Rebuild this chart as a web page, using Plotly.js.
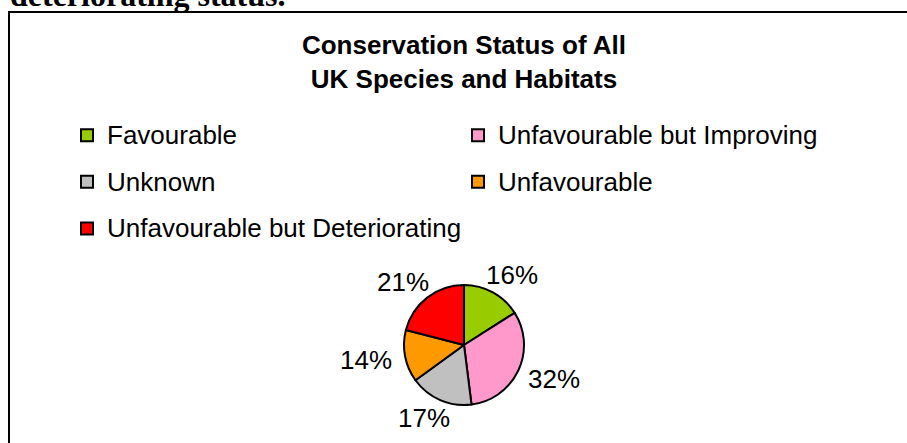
<!DOCTYPE html>
<html>
<head>
<meta charset="utf-8">
<script src="https://cdn.plot.ly/plotly-3.0.1.min.js"></script>
<style>
  html, body { margin: 0; padding: 0; background: #ffffff; }
  #chart { width: 907px; height: 443px; }
</style>
</head>
<body>
<div id="chart"></div>
<script>
// Conservation status shares (percent of all UK species and habitats)
const statusLabels = ['Favourable', 'Unfavourable but Improving', 'Unknown', 'Unfavourable', 'Unfavourable but Deteriorating'];
const statusShares = [16, 32, 17, 14, 21];
const statusColors = ['#99CC00', '#FF99CC', '#C0C0C0', '#FF9900', '#FF0000'];
const titleLines = ['Conservation Status of All', 'UK Species and Habitats'];
const headingTail = 'deteriorating status.';

const W = 907, H = 443;
const fx = v => v / W;        // pixel -> paper x
const fy = v => 1 - v / H;    // pixel -> paper y

const sans = 'Liberation Sans, Arial, sans-serif';

// Pie placement (pixels)
const pieCx = 464, pieCy = 345, pieR = 60;

// Legend rows use a taller line box than the visible text size
const legendText = statusLabels.map(l => '<span style="font-size:26px;baseline-shift:4px">' + l + '</span>');

const trace = {
  type: 'pie',
  labels: legendText,
  values: statusShares,
  sort: false,
  direction: 'clockwise',
  rotation: 0,
  marker: { colors: statusColors, line: { color: '#000000', width: 2 } },
  textinfo: 'none',
  domain: { x: [fx(pieCx - pieR), fx(pieCx + pieR)], y: [fy(pieCy + pieR), fy(pieCy - pieR)] },
  hoverinfo: 'none'
};

// Percentage labels sit outside each slice, along its mid-angle
const total = statusShares.reduce((a, b) => a + b, 0);
const labelRx = 100, labelRy = 80;
let cum = 0;
const pctLabels = statusShares.map(v => {
  const mid = (cum + v / 2) / total * 2 * Math.PI;
  cum += v;
  return {
    text: Math.round(v / total * 100) + '%',
    xref: 'paper', yref: 'paper',
    x: fx(pieCx + labelRx * Math.sin(mid)),
    y: fy(pieCy - labelRy * Math.cos(mid)),
    xanchor: 'center', yanchor: 'middle',
    showarrow: false,
    font: { family: sans, size: 26, color: '#000000' }
  };
});

const layout = {
  width: W, height: H,
  margin: { l: 0, r: 0, t: 0, b: 0, pad: 0 },
  paper_bgcolor: '#ffffff',
  font: { family: sans, color: '#000000' },
  title: {
    text: titleLines.join('<br>'),
    font: { family: sans, size: 26, color: '#000000', weight: 'bold' },
    x: fx(464), xanchor: 'center', xref: 'paper',
    y: fy(54), yanchor: 'top', yref: 'container'
  },
  showlegend: true,
  legend: {
    orientation: 'h',
    x: fx(67), xanchor: 'left',
    y: fy(107), yanchor: 'top',
    entrywidth: 346, entrywidthmode: 'pixels',
    font: { family: sans, size: 33.5, color: '#000000' },
    bgcolor: 'rgba(0,0,0,0)', borderwidth: 0,
    traceorder: 'normal'
  },
  shapes: [{
    type: 'rect', xref: 'paper', yref: 'paper',
    x0: fx(9), x1: fx(W + 20), y0: fy(H + 20), y1: fy(12),
    line: { color: '#000000', width: 2 }, fillcolor: 'rgba(0,0,0,0)'
  }],
  annotations: [{
    text: '<b>' + headingTail + '</b>',
    xref: 'paper', yref: 'paper',
    x: fx(8), xanchor: 'left',
    y: fy(15), yanchor: 'bottom',
    showarrow: false,
    font: { family: 'Liberation Serif, Times New Roman, serif', size: 32, color: '#000000' }
  }].concat(pctLabels)
};

Plotly.newPlot('chart', [trace], layout, { displayModeBar: false, staticPlot: true });
</script>
</body>
</html>
